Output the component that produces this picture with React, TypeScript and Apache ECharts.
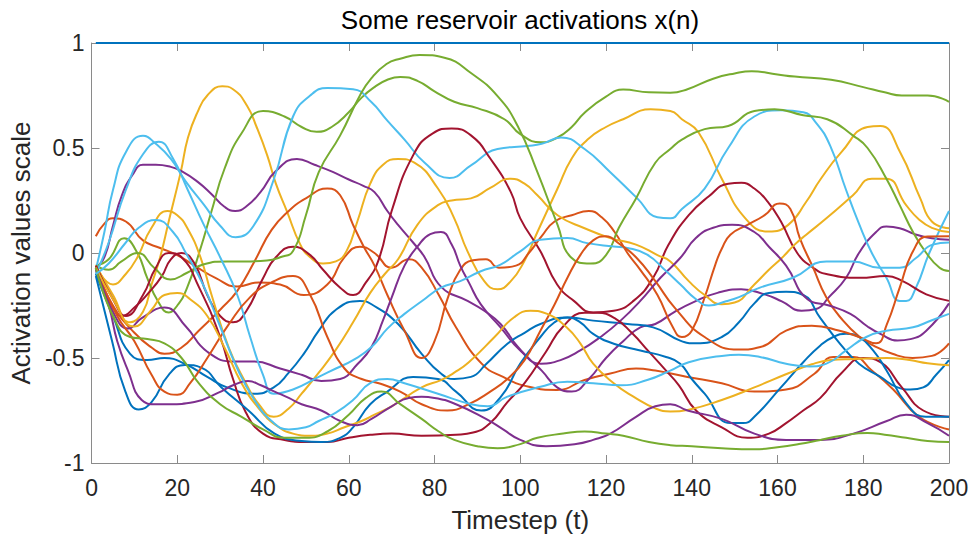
import React, { useEffect, useRef } from "react";
import * as echarts from "echarts";

type Pt = [number, number];

const TITLE = "Some reservoir activations x(n)";
const X_NAME = "Timestep (t)";
const Y_NAME = "Activation values scale";

const BLUE = "#0072BD";
const ORANGE = "#D95319";
const YELLOW = "#EDB120";
const PURPLE = "#7E2F8E";
const GREEN = "#77AC30";
const LIGHTBLUE = "#4DBEEE";
const DARKRED = "#A2142F";

const bias: Pt[] = [[1, 1], [200, 1]];

const orange1: Pt[] = [[1,0.08],[3,0.14],[5,0.165],[8,0.15],[12,0.06],[16,0.024],[20,-0.01],[24,-0.06],[29,-0.12],[34,-0.16],[39,-0.14],[44,-0.15],[49.5,-0.2],[55,-0.15],[59,-0.02],[62.6,0.03],[66,0.0],[70,-0.07],[74,-0.03],[77,-0.07],[81,-0.2],[85,-0.354],[91,-0.527],[96,-0.59],[102,-0.637],[108.6,-0.652],[115,-0.605],[121,-0.574],[127,-0.55],[131.5,-0.56],[139,-0.59],[147,-0.62],[154.6,-0.66],[162,-0.65],[168.6,-0.575],[173,-0.495],[177.7,-0.495],[182,-0.56],[187,-0.65],[193,-0.78],[200,-0.84]];

const yellow1: Pt[] = [[1,-0.06],[5,-0.2],[9,-0.33],[12,-0.28],[14,-0.15],[16,-0.02],[18,0.15],[20.8,0.385],[22.5,0.55],[24.7,0.67],[27,0.75],[30.5,0.794],[33,0.78],[36.3,0.7],[38.5,0.6],[41,0.464],[43,0.33],[45.6,0.197],[48.7,0.04],[51,-0.02],[54,-0.05],[57,-0.04],[59.5,0.01],[62,0.15],[65,0.33],[68,0.42],[71.5,0.448],[75.3,0.43],[80.8,0.307],[84.6,0.165],[87.7,0.008],[91.6,-0.134],[94.7,-0.173],[97.8,-0.134],[100.9,-0.04],[104,0.1],[108.7,0.307],[112,0.45],[115.7,0.54],[120,0.6],[124,0.637],[130.4,0.684],[135,0.676],[137.7,0.637],[141.6,0.574],[147,0.354],[152.5,0.165],[157.9,0.102],[162.5,0.134],[166.7,0.244],[170,0.35],[174.9,0.48],[181,0.6],[184,0.605],[188.6,0.48],[193.3,0.26],[196,0.15],[200,0.118]];

const purple1: Pt[] = [[1,-0.07],[3,-0.02],[5,0.13],[7,0.27],[9.5,0.37],[12,0.42],[15,0.42],[18.5,0.41],[21,0.39],[24.7,0.34],[28,0.28],[31,0.22],[33.5,0.2],[36,0.22],[39.4,0.29],[43,0.39],[47.9,0.448],[52,0.42],[56.4,0.385],[60,0.35],[63.4,0.32],[66,0.29],[69,0.2],[71.5,0.134],[75,0.05],[77.7,-0.02],[81.5,-0.16],[87.7,-0.228],[91.6,-0.275],[95.4,-0.338],[99.3,-0.444],[102.4,-0.51],[105,-0.56],[108.6,-0.64],[112,-0.66],[116,-0.6],[120,-0.5],[124,-0.42],[128,-0.354],[131.5,-0.338],[136,-0.28],[140.8,-0.23],[146,-0.19],[151.5,-0.173],[157,-0.197],[161,-0.23],[165.6,-0.275],[169,-0.267],[172,-0.21],[176,-0.118],[179,0.0],[183,0.1],[185.4,0.126],[188.5,0.118],[192,0.09],[196,0.07],[200,0.063]];

const green1: Pt[] = [[1,-0.06],[4,-0.03],[7.6,0.07],[10.7,0.0],[13,-0.12],[15.5,-0.23],[18,-0.283],[20,-0.25],[22.3,-0.165],[25.4,0.02],[28,0.2],[31,0.4],[35,0.57],[40,0.676],[45,0.65],[49,0.6],[52.5,0.577],[56,0.6],[60,0.67],[63,0.74],[66,0.79],[69,0.825],[72,0.838],[76,0.82],[80,0.77],[84.6,0.72],[90,0.69],[96.3,0.637],[100,0.566],[104.8,0.527],[108.7,0.55],[112,0.6],[115,0.668],[120,0.745],[124,0.778],[130,0.765],[135,0.763],[139,0.78],[145,0.83],[150,0.855],[154,0.865],[160,0.85],[164,0.84],[172.5,0.825],[180,0.79],[185,0.765],[189,0.75],[195,0.75],[200,0.72]];

const lightblue1: Pt[] = [[1,-0.08],[3,0.1],[5,0.3],[8,0.48],[12,0.558],[15,0.52],[18.5,0.448],[22,0.34],[26.2,0.23],[30,0.13],[33.6,0.075],[37.8,0.13],[42.5,0.35],[47,0.65],[51,0.75],[55,0.786],[61,0.78],[65.2,0.72],[69,0.63],[73,0.54],[77.7,0.43],[83.5,0.357],[88.5,0.417],[94.7,0.495],[101.7,0.51],[105,0.52],[109.5,0.55],[115,0.495],[121,0.385],[127.3,0.26],[132,0.17],[135,0.165],[137.7,0.21],[143,0.307],[148.5,0.5],[154.6,0.65],[160.8,0.68],[166,0.67],[169,0.62],[172.3,0.51],[176,0.3],[179,0.14],[182,0.0],[185.4,-0.118],[188.5,-0.228],[190,-0.228],[192.3,-0.165],[195.4,0.0],[200,0.2]];

const darkred1: Pt[] = [[1,-0.07],[2.4,-0.156],[5,-0.26],[7,-0.3],[10,-0.26],[13.3,-0.19],[16.4,-0.11],[18.5,-0.03],[21,0.0],[24,-0.05],[27,-0.2],[30,-0.3],[33,-0.33],[36,-0.28],[40,-0.12],[43,-0.02],[47,0.03],[51,-0.01],[54,-0.08],[58,-0.165],[61,-0.2],[64,-0.14],[67,-0.03],[70,0.2],[75,0.465],[79.6,0.57],[84,0.593],[88.5,0.56],[93,0.45],[97.8,0.29],[100,0.165],[104.7,0.008],[108.6,-0.15],[112.5,-0.228],[117,-0.283],[121.8,-0.275],[126.4,-0.228],[131,-0.118],[134.6,0.04],[139.3,0.18],[144,0.27],[148.5,0.33],[151.6,0.334],[154.6,0.307],[157.7,0.245],[160.8,0.15],[164.6,0.0],[168.3,-0.07],[171.4,-0.1],[179.2,-0.118],[185.4,-0.11],[189.2,-0.134],[194.7,-0.197],[200,-0.228]];

const blue2: Pt[] = [[1,-0.1],[5,-0.3],[9,-0.48],[13,-0.51],[17,-0.5],[22,-0.53],[27,-0.59],[31.6,-0.64],[38,-0.67],[42.5,-0.64],[46,-0.57],[49.5,-0.48],[53,-0.37],[57,-0.27],[62.6,-0.228],[65.3,-0.244],[71.5,-0.338],[77,-0.48],[81.5,-0.574],[84.6,-0.6],[88.5,-0.59],[92,-0.53],[97,-0.432],[101,-0.38],[104.7,-0.338],[111,-0.307],[117,-0.322],[125,-0.338],[131,-0.354],[137.3,-0.417],[141,-0.43],[147,-0.4],[151,-0.33],[154.6,-0.24],[158,-0.19],[162,-0.185],[166,-0.2],[170,-0.31],[174.5,-0.43],[179,-0.527],[184,-0.59],[188,-0.64],[191,-0.65],[194,-0.64],[197,-0.58],[200,-0.51]];

const orange2: Pt[] = [[1,-0.07],[5,-0.25],[10,-0.38],[14,-0.45],[17,-0.48],[21,-0.45],[25,-0.37],[30,-0.27],[34,-0.18],[38,-0.04],[42,0.11],[46,0.2],[50,0.26],[55,0.307],[58,0.275],[61,0.134],[63.5,0.03],[66,-0.06],[69,-0.2],[73,-0.37],[77,-0.5],[80,-0.42],[83,-0.22],[86,-0.08],[89,-0.035],[92,-0.03],[95,-0.07],[99,-0.06],[102,0.0],[105,0.08],[108,0.15],[112,0.18],[116,0.2],[119,0.17],[122,0.1],[125,0.0],[128,-0.08],[132,-0.2],[135.5,-0.35],[137.7,-0.4],[140,-0.37],[143,-0.212],[145.5,-0.055],[147,0.02],[149,0.087],[153,0.134],[157,0.18],[160.5,0.236],[163,0.21],[165.2,0.071],[168.3,-0.07],[171.4,-0.212],[175.3,-0.322],[179.2,-0.4],[182.3,-0.44],[186.8,-0.48],[191.5,-0.5],[196,-0.49],[200,-0.43]];

const yellow2: Pt[] = [[1,-0.06],[5,-0.15],[8,-0.1],[10.7,-0.02],[14,0.12],[17.7,0.2],[20,0.18],[22.3,0.12],[25.4,-0.02],[28,-0.2],[32,-0.45],[36,-0.62],[39,-0.72],[42.5,-0.78],[46,-0.74],[49,-0.67],[53,-0.57],[57,-0.46],[61,-0.33],[65,-0.19],[68.4,-0.1],[71.5,-0.03],[76,0.134],[80.8,0.228],[84,0.25],[88.5,0.26],[93,0.31],[97.8,0.354],[101,0.33],[104,0.275],[108.7,0.18],[115,0.118],[121,0.071],[127,0.04],[132,-0.01],[135,-0.04],[139.3,-0.134],[143,-0.2],[147,-0.244],[150,-0.236],[154.6,-0.15],[158,-0.08],[161,-0.024],[164,0.04],[166.7,0.087],[171.4,0.165],[177.6,0.275],[182,0.354],[185.4,0.354],[190,0.228],[193,0.16],[196,0.12],[200,0.1]];

const purple2: Pt[] = [[1,-0.07],[5,-0.28],[8.6,-0.36],[11.7,-0.31],[17,-0.26],[22,-0.35],[27,-0.47],[33.4,-0.517],[38,-0.517],[44,-0.55],[49,-0.58],[53.6,-0.61],[58,-0.6],[62,-0.53],[65.3,-0.448],[68,-0.32],[70,-0.212],[73,-0.06],[76,0.03],[79,0.09],[81.5,0.1],[84,0.04],[86,-0.06],[88,-0.14],[90.8,-0.245],[95.4,-0.354],[100,-0.464],[104.8,-0.527],[109.4,-0.51],[114,-0.464],[118.7,-0.4],[123.4,-0.322],[128,-0.228],[132.7,-0.118],[137.3,-0.024],[140.9,0.07],[145,0.12],[149.4,0.134],[154.6,0.1],[158,0.03],[162,-0.06],[167,-0.22],[172,-0.25],[177,-0.29],[181,-0.35],[184,-0.385],[188,-0.417],[191,-0.41],[194.7,-0.37],[200,-0.24]];

const green2: Pt[] = [[1,-0.06],[4,-0.08],[7,-0.04],[10.7,0.0],[14.6,-0.07],[18.4,-0.126],[22.3,-0.094],[26,-0.055],[31.6,-0.04],[36,-0.04],[40.9,-0.036],[44,-0.02],[47,0.01],[50,0.18],[53,0.385],[58,0.56],[62.6,0.75],[65.2,0.83],[68.8,0.9],[72,0.925],[76.5,0.943],[82.3,0.93],[88.5,0.857],[94.7,0.747],[99.4,0.605],[104,0.385],[108.7,0.134],[111.8,-0.02],[116.4,-0.05],[120,-0.01],[123,0.12],[127,0.26],[131.5,0.43],[135,0.495],[137.7,0.54],[143,0.59],[148.5,0.605],[154.6,0.676],[159.3,0.684],[166,0.656],[171.6,0.637],[177.7,0.558],[181,0.5],[185.4,0.354],[188.5,0.228],[191.6,0.1],[194.7,0.0],[197.8,-0.07],[200,-0.086]];

const lightblue2: Pt[] = [[1,-0.1],[4,0.05],[8,0.3],[12,0.47],[15.7,0.53],[19,0.45],[22.3,0.307],[26.2,0.134],[30,-0.02],[34,-0.2],[37,-0.4],[40,-0.58],[42.5,-0.67],[47,-0.65],[53,-0.59],[57,-0.55],[61,-0.51],[65.3,-0.448],[69,-0.36],[73,-0.29],[77,-0.23],[81.5,-0.165],[86,-0.134],[90.8,-0.087],[95.4,-0.055],[100,0.008],[104.7,0.063],[111,0.071],[115.6,0.047],[121.8,0.031],[125,0.024],[129.6,-0.008],[134,-0.086],[137.3,-0.149],[141,-0.22],[144,-0.25],[148,-0.23],[151,-0.21],[155.9,-0.165],[163.6,-0.118],[171.4,-0.04],[177.6,-0.04],[183.8,-0.07],[188.5,-0.07],[192.3,-0.024],[196.2,0.04],[200,0.05]];

const darkred2: Pt[] = [[1,-0.06],[5,-0.22],[8,-0.3],[12,-0.2],[15,-0.07],[18,0.0],[21,-0.02],[25,-0.16],[30,-0.4],[33,-0.6],[36,-0.76],[40,-0.86],[45,-0.89],[50,-0.9],[55,-0.9],[60,-0.88],[65,-0.866],[70,-0.86],[77,-0.87],[85,-0.865],[89,-0.855],[93,-0.81],[97,-0.71],[101,-0.62],[106,-0.47],[110,-0.35],[115,-0.285],[118,-0.285],[122,-0.31],[126,-0.38],[130,-0.47],[134,-0.56],[137,-0.63],[141,-0.75],[147,-0.83],[153,-0.88],[158,-0.86],[162,-0.81],[166,-0.75],[170,-0.69],[175,-0.57],[180,-0.5],[184,-0.52],[189,-0.64],[194,-0.75],[200,-0.78]];

const blue3: Pt[] = [[1,-0.11],[4.8,-0.42],[7.9,-0.66],[11,-0.745],[14,-0.71],[18,-0.58],[21.8,-0.533],[25.7,-0.547],[30.3,-0.64],[36.6,-0.75],[42.7,-0.86],[49,-0.895],[53.6,-0.9],[58,-0.88],[61,-0.83],[65,-0.72],[69,-0.66],[75,-0.59],[80.8,-0.6],[85,-0.66],[90.9,-0.75],[95.5,-0.684],[100,-0.527],[104.7,-0.4],[108,-0.33],[111,-0.307],[114,-0.33],[117,-0.385],[121.8,-0.432],[128,-0.464],[134,-0.495],[137.3,-0.527],[140,-0.6],[143,-0.67],[149,-0.81],[152,-0.81],[154.6,-0.78],[160.8,-0.64],[166,-0.52],[170,-0.44],[173,-0.4],[176,-0.385],[179,-0.4],[182.3,-0.464],[185.4,-0.558],[190,-0.715],[194.6,-0.78],[200,-0.78]];

const orange3: Pt[] = [[1,-0.07],[6,-0.3],[10,-0.42],[14,-0.58],[17,-0.66],[20,-0.675],[23,-0.62],[27,-0.5],[32,-0.34],[37,-0.21],[42,-0.14],[47,-0.11],[51,-0.2],[55,-0.4],[59,-0.55],[63,-0.6],[67,-0.62],[72,-0.66],[77,-0.72],[83,-0.75],[88,-0.72],[93,-0.66],[97,-0.6],[101,-0.51],[104.7,-0.37],[108,-0.245],[111,-0.118],[114,-0.01],[117,0.06],[120,0.08],[123,0.045],[127,-0.02],[131.5,-0.134],[136,-0.26],[143,-0.4],[151,-0.46],[156,-0.448],[162,-0.37],[168,-0.346],[174.5,-0.37],[179,-0.4],[183,-0.43],[185.5,-0.34],[188.5,-0.165],[191.6,0.008],[195,0.079],[200,0.08]];

const yellow3: Pt[] = [[1,-0.07],[5,-0.22],[10,-0.35],[14,-0.27],[17,-0.2],[20,-0.19],[23,-0.22],[27,-0.3],[31,-0.45],[35,-0.62],[39,-0.74],[43,-0.82],[47,-0.86],[51,-0.87],[55,-0.86],[59,-0.83],[63,-0.8],[66,-0.77],[70,-0.73],[77,-0.64],[81.5,-0.605],[84.6,-0.57],[88,-0.52],[94,-0.4],[98.5,-0.307],[102.4,-0.275],[106.3,-0.29],[110.8,-0.354],[114,-0.43],[117,-0.527],[121.8,-0.62],[126.4,-0.684],[131.5,-0.74],[135,-0.755],[139.3,-0.746],[147,-0.7],[154.6,-0.64],[162.4,-0.574],[168,-0.53],[172.4,-0.51],[177.7,-0.505],[185.5,-0.5],[190.8,-0.51],[195,-0.525],[200,-0.535]];

const purple3: Pt[] = [[1,-0.08],[4,-0.25],[6,-0.42],[8.5,-0.56],[11.7,-0.7],[15,-0.72],[18,-0.72],[24,-0.71],[29.6,-0.665],[33,-0.63],[36.5,-0.61],[39.5,-0.63],[42.7,-0.66],[46,-0.69],[49,-0.72],[53.6,-0.75],[58,-0.8],[62,-0.82],[65.3,-0.79],[70,-0.73],[74,-0.69],[77,-0.685],[80,-0.69],[85,-0.72],[92,-0.79],[96,-0.84],[100,-0.89],[106,-0.92],[113,-0.91],[117,-0.89],[121,-0.86],[127,-0.78],[131.5,-0.73],[135,-0.72],[139,-0.75],[147,-0.79],[154.6,-0.86],[162,-0.89],[170,-0.89],[177.7,-0.86],[185.5,-0.8],[190,-0.77],[195,-0.81],[200,-0.87]];

const green3: Pt[] = [[1,-0.07],[5,-0.3],[9,-0.4],[13,-0.41],[17,-0.43],[21,-0.5],[25,-0.62],[30,-0.72],[35,-0.78],[40,-0.84],[45,-0.88],[50,-0.88],[55,-0.85],[60,-0.77],[64,-0.69],[67.6,-0.66],[72,-0.72],[77,-0.79],[81,-0.85],[84.6,-0.89],[90,-0.92],[94.7,-0.93],[100,-0.91],[104,-0.88],[110,-0.86],[115,-0.85],[120,-0.86],[124,-0.87],[130,-0.9],[135,-0.915],[140,-0.92],[147,-0.93],[154.6,-0.935],[160,-0.925],[165,-0.91],[170,-0.89],[175,-0.87],[181,-0.857],[185,-0.865],[190,-0.88],[195,-0.895],[200,-0.9]];

const lightblue3: Pt[] = [[1,-0.1],[4,-0.05],[8,0.05],[11,0.12],[15,0.157],[19,0.1],[22,0.0],[26,-0.15],[30,-0.35],[34,-0.55],[38,-0.7],[42,-0.8],[46,-0.84],[50,-0.83],[53,-0.8],[57,-0.76],[61,-0.7],[65,-0.62],[69,-0.6],[73,-0.62],[80.8,-0.67],[88.5,-0.72],[92.4,-0.73],[97,-0.684],[104.7,-0.637],[111,-0.613],[117,-0.62],[123.4,-0.63],[129.6,-0.605],[135,-0.56],[139.3,-0.52],[147,-0.49],[151,-0.485],[155.9,-0.495],[162,-0.527],[167.5,-0.54],[171.4,-0.527],[176,-0.464],[180.7,-0.4],[185.4,-0.37],[191.6,-0.354],[196,-0.32],[200,-0.29]];

const SERIES: { data: Pt[]; color: string }[] = [
  { data: bias, color: BLUE },
  { data: orange1, color: ORANGE },
  { data: yellow1, color: YELLOW },
  { data: purple1, color: PURPLE },
  { data: green1, color: GREEN },
  { data: lightblue1, color: LIGHTBLUE },
  { data: darkred1, color: DARKRED },
  { data: blue2, color: BLUE },
  { data: orange2, color: ORANGE },
  { data: yellow2, color: YELLOW },
  { data: purple2, color: PURPLE },
  { data: green2, color: GREEN },
  { data: lightblue2, color: LIGHTBLUE },
  { data: darkred2, color: DARKRED },
  { data: blue3, color: BLUE },
  { data: orange3, color: ORANGE },
  { data: yellow3, color: YELLOW },
  { data: purple3, color: PURPLE },
  { data: green3, color: GREEN },
  { data: lightblue3, color: LIGHTBLUE },
];

const FONT = '"Liberation Sans", Arial, Helvetica, sans-serif';
const AXIS_GRAY = "#8a8a8a";
const TEXT = "#262626";

export default function App() {
  const ref = useRef<HTMLDivElement>(null);
  useEffect(() => {
    if (!ref.current) return;
    const chart = echarts.init(ref.current, undefined, { renderer: "svg" });
    const boxAxis = {
      axisLine: { show: true, onZero: false, lineStyle: { color: AXIS_GRAY, width: 1 } },
      axisTick: { show: true, inside: true, length: 8, lineStyle: { color: AXIS_GRAY, width: 1 } },
      splitLine: { show: false },
    };
    chart.setOption({
      animation: false,
      backgroundColor: "#ffffff",
      title: {
        text: TITLE,
        left: 520,
        top: 7,
        textAlign: "center",
        padding: 0,
        textStyle: { fontFamily: FONT, fontSize: 26, fontWeight: "normal", color: "#000" },
      },
      grid: { left: 90, right: 24, top: 43, bottom: 71, containLabel: false },
      xAxis: [
        {
          type: "value", min: 0, max: 200, interval: 20, position: "bottom",
          name: X_NAME, nameLocation: "middle", nameGap: 44,
          nameTextStyle: { fontFamily: FONT, fontSize: 26, color: TEXT },
          axisLabel: { fontFamily: FONT, fontSize: 23, color: TEXT, margin: 13 },
          ...boxAxis,
        },
        {
          type: "value", min: 0, max: 200, interval: 20, position: "top",
          axisLabel: { show: false },
          ...boxAxis,
        },
      ],
      yAxis: [
        {
          type: "value", min: -1, max: 1, interval: 0.5, position: "left",
          name: Y_NAME, nameLocation: "middle", nameGap: 52, nameRotate: 90,
          nameTextStyle: { fontFamily: FONT, fontSize: 26, color: TEXT },
          axisLabel: { fontFamily: FONT, fontSize: 23, color: TEXT, margin: 7 },
          ...boxAxis,
        },
        {
          type: "value", min: -1, max: 1, interval: 0.5, position: "right",
          axisLabel: { show: false },
          ...boxAxis,
        },
      ],
      series: SERIES.map((s, i) => ({
        type: "line",
        data: s.data,
        xAxisIndex: 0,
        yAxisIndex: 0,
        showSymbol: false,
        symbol: "none",
        smooth: 0.5,
        silent: true,
        clip: i !== 0,
        z: 2 + i * 0.01,
        lineStyle: { color: s.color, width: 2 },
        itemStyle: { color: s.color },
        emphasis: { disabled: true },
      })),
    });
    return () => chart.dispose();
  }, []);
  return (
    <div
      ref={ref}
      style={{ position: "fixed", left: 0, top: 0, width: 973, height: 538, background: "#fff" }}
    />
  );
}
